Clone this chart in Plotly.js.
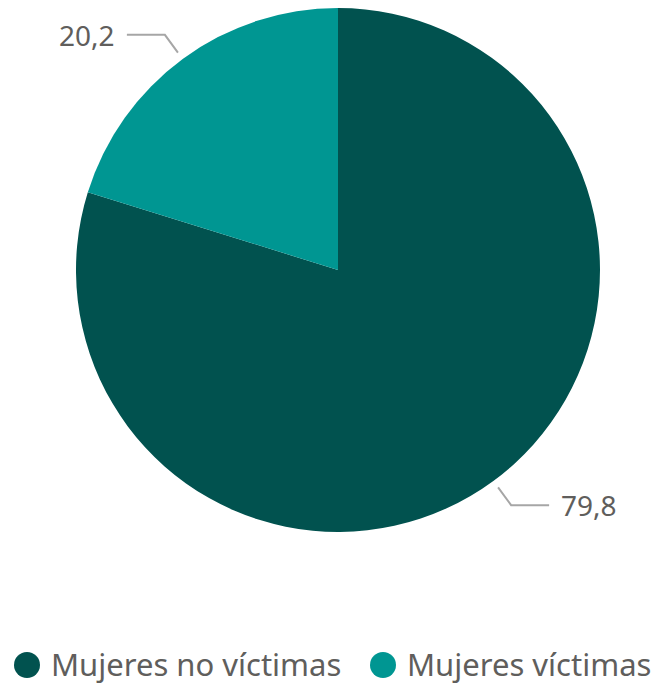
<!DOCTYPE html>
<html>
<head>
<meta charset="utf-8">
<script src="https://cdn.plot.ly/plotly-3.0.1.min.js"></script>
<style>html,body{margin:0;padding:0;background:#fff;}#chart{width:656px;height:686px;}</style>
</head>
<body>
<div id="chart"></div>
<script>
// Data
const categories = ["Mujeres no víctimas", "Mujeres víctimas"];
const values = [79.8, 20.2];
const colors = ["#01524F", "#009692"];

const W = 656, H = 686;
const cx = 338, cy = 270, R = 262;
const textColor = "#605E5C";
const fontFam = "'Segoe UI', 'Noto Sans', 'Open Sans', sans-serif";

const px = x => x / W;
const py = y => 1 - y / H;

const pie = {
  type: "pie",
  labels: categories,
  values: values,
  sort: false,
  direction: "clockwise",
  rotation: 0,
  marker: {colors: colors, line: {width: 0}},
  textinfo: "none",
  hoverinfo: "label+value",
  showlegend: false,
  domain: {x: [px(cx - R), px(cx + R)], y: [py(cy + R), py(cy - R)]}
};

// Leader lines and labels computed from values
const shapes = [];
const annotations = [];
const total = values.reduce((a, b) => a + b, 0);
let cum = 0;
values.forEach((v, i) => {
  const mid = (cum + v / 2) / total * 2 * Math.PI; // clockwise from top
  cum += v;
  const sx = Math.sin(mid), sy = -Math.cos(mid);
  const x1 = cx + (R + 8) * sx, y1 = cy + (R + 8) * sy;
  const x2 = cx + (R + 30) * sx, y2 = cy + (R + 30) * sy;
  const side = sx >= 0 ? 1 : -1;
  const x3 = x2 + side * 38;
  shapes.push({
    type: "path", xref: "paper", yref: "paper",
    path: `M ${px(x1)} ${py(y1)} L ${px(x2)} ${py(y2)} L ${px(x3)} ${py(y2)}`,
    line: {color: "#A6A6A6", width: 2}
  });
  annotations.push({
    xref: "paper", yref: "paper",
    x: px(x3 + side * 10), y: py(y2),
    xanchor: side > 0 ? "left" : "right", yanchor: "middle",
    text: v.toFixed(1).replace(".", ","),
    showarrow: false,
    font: {family: fontFam, size: 28, color: textColor}
  });
});

// Custom legend with circle markers
const legendY = 665;
const legendX = [27, 383];
categories.forEach((c, i) => {
  shapes.push({
    type: "circle", xref: "paper", yref: "paper",
    x0: px(legendX[i] - 13), x1: px(legendX[i] + 13),
    y0: py(legendY + 13), y1: py(legendY - 13),
    fillcolor: colors[i], line: {width: 0}
  });
  annotations.push({
    xref: "paper", yref: "paper",
    x: px(legendX[i] + 22), y: py(legendY - 1),
    xanchor: "left", yanchor: "middle",
    text: c, showarrow: false,
    font: {family: fontFam, size: 31, color: textColor}
  });
});

const layout = {
  width: W, height: H,
  margin: {l: 0, r: 0, t: 0, b: 0},
  paper_bgcolor: "#ffffff",
  showlegend: false,
  separators: ",.",
  shapes: shapes,
  annotations: annotations
};

Plotly.newPlot("chart", [pie], layout, {displayModeBar: false, staticPlot: true});
</script>
</body>
</html>
